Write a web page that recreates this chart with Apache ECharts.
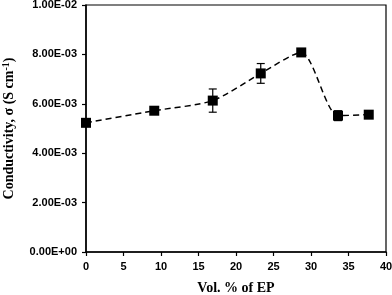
<!DOCTYPE html>
<html>
<head>
<meta charset="utf-8">
<script src="https://cdn.jsdelivr.net/npm/echarts@6/dist/echarts.min.js"></script>
<style>
    html, body { margin: 0; padding: 0; background: #fff; }
    #chart { width: 392px; height: 295px; }
</style>
</head>
<body>
<div id="chart"></div>
<script>
const volEP = [0, 9.1, 16.9, 23.3, 28.7, 33.6, 37.7];
const sigma = [5.23e-3, 5.72e-3, 6.13e-3, 7.23e-3, 8.08e-3, 5.52e-3, 5.56e-3];
const sigmaErr = [0.1e-3, 0.1e-3, 0.47e-3, 0.4e-3, 0.1e-3, 0.2e-3, 0.12e-3];

const points = volEP.map((x, i) => [x, sigma[i]]);
const errData = volEP.map((x, i) => [x, sigma[i] - sigmaErr[i], sigma[i] + sigmaErr[i]]);

function sciLabel(v) {
    if (v === 0) return '0.00E+00';
    let e = Math.floor(Math.log10(Math.abs(v)) + 1e-9);
    let m = v / Math.pow(10, e);
    let sign = e < 0 ? '-' : '+';
    let ee = Math.abs(e);
    return m.toFixed(2) + 'E' + sign + (ee < 10 ? '0' + ee : ee);
}

const chart = echarts.init(document.getElementById('chart'), null, { renderer: 'canvas' });

chart.setOption({
    animation: false,
    grid: {
        left: 86,
        right: 6,
        top: 5,
        bottom: 43,
        containLabel: false,
        outerBoundsMode: 'none',
        show: true,
        borderColor: '#000',
        borderWidth: 1.2
    },
    xAxis: {
        type: 'value',
        min: 0,
        max: 40,
        interval: 5,
        name: 'Vol. % of EP',
        nameLocation: 'middle',
        nameGap: 29,
        nameTextStyle: { fontFamily: 'Liberation Serif', fontWeight: 'bold', fontSize: 14, color: '#000' },
        splitLine: { show: false },
        axisLine: { lineStyle: { color: '#000', width: 1.5 } },
        axisTick: { length: 4, lineStyle: { color: '#000', width: 1.2 } },
        axisLabel: { fontFamily: 'Liberation Sans', fontWeight: 'bold', fontSize: 11, color: '#000', margin: 9 }
    },
    yAxis: {
        type: 'value',
        min: 0,
        max: 0.01,
        interval: 0.002,
        name: '{t|Conductivity, σ (S cm}{s|-1}{t|)}',
        nameLocation: 'middle',
        nameGap: 69,
        nameTextStyle: {
            rich: {
                t: { fontFamily: 'Liberation Serif', fontWeight: 'bold', fontSize: 14, color: '#000' },
                s: { fontFamily: 'Liberation Serif', fontWeight: 'bold', fontSize: 10, color: '#000', verticalAlign: 'top', padding: [0, 0, 6, 0] }
            }
        },
        splitLine: { show: false },
        axisLine: { show: true, lineStyle: { color: '#000', width: 1.5 } },
        axisTick: { show: true, length: 4, lineStyle: { color: '#000', width: 1.2 } },
        axisLabel: {
            fontFamily: 'Liberation Sans', fontWeight: 'bold', fontSize: 11, color: '#000', margin: 9,
            formatter: sciLabel
        }
    },
    series: [{
        type: 'line',
        data: points,
        smooth: 0.25,
        symbol: 'rect',
        symbolSize: 10,
        itemStyle: { color: '#000' },
        lineStyle: { color: '#000', width: 1.5, type: [6, 4] },
        z: 3
    }, {
        type: 'custom',
        data: errData,
        encode: { x: 0, y: [1, 2] },
        z: 4,
        renderItem: function (params, api) {
            const lo = api.coord([api.value(0), api.value(1)]);
            const hi = api.coord([api.value(0), api.value(2)]);
            const w = 4;
            const style = { stroke: '#000', lineWidth: 1.2 };
            return {
                type: 'group',
                children: [
                    { type: 'line', shape: { x1: lo[0], y1: lo[1], x2: hi[0], y2: hi[1] }, style: style },
                    { type: 'line', shape: { x1: lo[0] - w, y1: lo[1], x2: lo[0] + w, y2: lo[1] }, style: style },
                    { type: 'line', shape: { x1: hi[0] - w, y1: hi[1], x2: hi[0] + w, y2: hi[1] }, style: style }
                ]
            };
        }
    }]
});
</script>
</body>
</html>
